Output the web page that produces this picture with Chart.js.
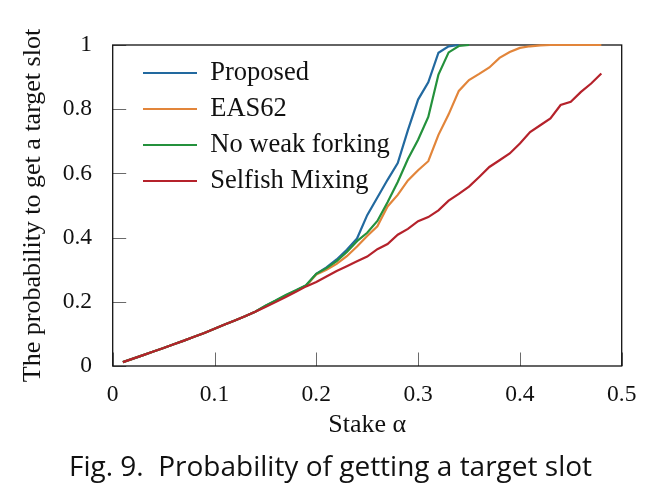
<!DOCTYPE html>
<html>
<head>
<meta charset="utf-8">
<script src="https://cdn.jsdelivr.net/npm/chart.js@4.4.0/dist/chart.umd.min.js"></script>
<style>
  html, body { margin: 0; padding: 0; background: #ffffff; }
  #wrap { width: 661px; height: 500px; }
</style>
</head>
<body>
<div id="wrap"><canvas id="c" width="661" height="500"></canvas></div>
<script>
// ---------------- data ----------------
const stake = [0.01,0.02,0.03,0.04,0.05,0.06,0.07,0.08,0.09,0.10,
               0.11,0.12,0.13,0.14,0.15,0.16,0.17,0.18,0.19,0.20,
               0.21,0.22,0.23,0.24,0.25,0.26,0.27,0.28,0.29,0.30,
               0.31,0.32,0.33,0.34,0.35,0.36,0.37,0.38,0.39,0.40,
               0.41,0.42,0.43,0.44,0.45,0.46,0.47,0.48];

const proposed = [0.012,0.023,0.034,0.045,0.056,0.068,0.079,0.091,0.103,0.116,
                  0.129,0.142,0.155,0.169,0.187,0.203,0.220,0.235,0.251,0.287,
                  0.307,0.332,0.362,0.397,0.470,0.525,0.580,0.632,0.735,0.830,
                  0.884,0.976,0.996,1.000];

const eas62 = [0.012,0.023,0.034,0.045,0.056,0.068,0.079,0.091,0.103,0.116,
               0.129,0.142,0.155,0.169,0.186,0.202,0.219,0.234,0.250,0.285,
               0.300,0.318,0.342,0.372,0.405,0.435,0.497,0.533,0.578,0.610,
               0.638,0.720,0.784,0.857,0.891,0.910,0.930,0.960,0.978,0.991,
               0.996,0.999,1.000,1.000,1.000,1.000,1.000,1.000];

const noWeakForking = [0.012,0.023,0.034,0.045,0.056,0.068,0.079,0.091,0.103,0.116,
                       0.129,0.142,0.155,0.169,0.188,0.204,0.221,0.236,0.252,0.287,
                       0.305,0.327,0.355,0.389,0.415,0.452,0.510,0.573,0.645,0.705,
                       0.776,0.908,0.977,0.997,1.000];

const selfishMixing = [0.012,0.023,0.034,0.045,0.056,0.068,0.079,0.091,0.103,0.116,
                       0.129,0.142,0.155,0.169,0.184,0.199,0.215,0.231,0.248,0.262,
                       0.279,0.296,0.311,0.326,0.341,0.364,0.380,0.409,0.427,0.451,
                       0.464,0.485,0.515,0.536,0.559,0.589,0.620,0.641,0.662,0.693,
                       0.729,0.750,0.771,0.813,0.823,0.854,0.880,0.911];

const seriesNames = ['Proposed', 'EAS62', 'No weak forking', 'Selfish Mixing'];
const xTickLabels = ['0', '0.1', '0.2', '0.3', '0.4', '0.5'];
const yTickLabels = ['0', '0.2', '0.4', '0.6', '0.8', '1'];
const xTitle = 'Stake α';
const yTitle = 'The probability to get a target slot';
const caption = 'Fig. 9.  Probability of getting a target slot';

// ---------------- styling / layout ----------------
const colors = ['#22699f', '#e2853a', '#24913c', '#b5222b'];
const serif = "'Liberation Serif', 'DejaVu Serif', serif";
const sans = "'Open Sans', Lato, sans-serif";

const capSize = 28;
const PLOT = { left: 112.7, right: 621.7, top: 45, bottom: 366 };
const W = 661, H = 500;
const capMid = 468.5;
const capLH = capSize * 1.2;
const padBottom = H - capMid - capLH / 2;
const xScaleBottom = H - padBottom - capLH;
const xScaleHeight = xScaleBottom - PLOT.bottom;
const titleSize = 26;
const titleLH = titleSize * 1.2;
const xTitleMid = 425.5;
const xTitlePadBottom = xScaleBottom - xTitleMid - titleLH / 2;
const yTitleMid = 33.2;
const yTitlePadTop = yTitleMid - titleLH / 2;
const tickSize = 23.5;

const toPoints = (ys) => ys.map((v, i) => ({ x: stake[i], y: v }));
const seriesData = [proposed, eas62, noWeakForking, selfishMixing];

const datasets = seriesData.map((ys, k) => ({
  label: seriesNames[k],
  data: toPoints(ys),
  borderColor: colors[k],
  backgroundColor: colors[k],
  borderWidth: 2.2,
  pointRadius: 0,
  pointHoverRadius: 0,
  tension: 0,
  fill: false,
  clip: false,
  order: 4 - k
}));

const framePlugin = {
  id: 'frame',
  beforeDatasetsDraw(chart) {
    const { ctx, chartArea: a, scales: { x, y } } = chart;
    ctx.save();
    ctx.strokeStyle = '#6a6a6a';
    ctx.lineWidth = 1;
    ctx.beginPath();
    x.ticks.forEach((t, i) => {
      const px = Math.round(x.getPixelForTick(i)) + 0.5;
      ctx.moveTo(px, a.bottom);
      ctx.lineTo(px, a.bottom - 13.5);
    });
    y.ticks.forEach((t, i) => {
      const py = Math.round(y.getPixelForTick(i)) + 0.5;
      ctx.moveTo(a.left, py);
      ctx.lineTo(a.left + 13.5, py);
    });
    ctx.stroke();
    ctx.strokeStyle = '#111111';
    ctx.lineWidth = 1.3;
    ctx.strokeRect(a.left, a.top, a.right - a.left, a.bottom - a.top);
    ctx.restore();
  }
};

const legendPlace = {
  id: 'legendPlace',
  afterLayout(chart) {
    const lg = chart.legend;
    if (!lg) return;
    const w = lg.width, h = lg.height;
    lg.left = 133.5; lg.top = 50.25;
    lg.right = lg.left + w; lg.bottom = lg.top + h;
  }
};

new Chart(document.getElementById('c').getContext('2d'), {
  type: 'line',
  data: { datasets },
  options: {
    responsive: false,
    animation: false,
    devicePixelRatio: 1,
    events: [],
    layout: { padding: { top: PLOT.top, right: 0, left: 0, bottom: padBottom } },
    plugins: {
      legend: {
        position: 'chartArea',
        align: 'start',
        labels: {
          font: { family: serif, size: 26.5 },
          color: '#111111',
          usePointStyle: true,
          pointStyle: 'line',
          pointStyleWidth: 54,
          padding: 9.5,
          sort: (a, b) => a.datasetIndex - b.datasetIndex
        }
      },
      title: {
        display: true,
        position: 'bottom',
        text: caption,
        font: { family: sans, size: capSize, weight: 'normal' },
        color: '#111111',
        padding: 0
      },
      tooltip: { enabled: false }
    },
    scales: {
      x: {
        type: 'linear',
        min: 0, max: 0.5,
        grid: { display: false },
        border: { display: false },
        ticks: {
          stepSize: 0.1,
          padding: 6.4,
          maxRotation: 0,
          autoSkip: false,
          color: '#111111',
          font: { family: serif, size: tickSize },
          callback: (v, i) => xTickLabels[i]
        },
        title: {
          display: true, text: xTitle, color: '#111111',
          font: { family: serif, size: titleSize },
          padding: { top: 0, bottom: xTitlePadBottom }
        },
        afterFit(s) { s.height = xScaleHeight; }
      },
      y: {
        type: 'linear',
        position: 'left',
        min: 0, max: 1,
        grid: { display: false },
        border: { display: false },
        ticks: {
          stepSize: 0.2,
          padding: 12.7,
          color: '#111111',
          font: { family: serif, size: tickSize },
          callback: (v, i) => yTickLabels[i]
        },
        title: {
          display: true, text: yTitle, color: '#111111',
          font: { family: serif, size: titleSize },
          padding: { top: yTitlePadTop, bottom: 0 }
        },
        afterFit(s) { s.width = PLOT.left; }
      },
      yRight: {
        type: 'linear',
        position: 'right',
        min: 0, max: 1,
        grid: { display: false },
        border: { display: false },
        ticks: { display: false },
        afterFit(s) { s.width = W - PLOT.right; }
      }
    }
  },
  plugins: [framePlugin, legendPlace]
});
</script>
</body>
</html>
